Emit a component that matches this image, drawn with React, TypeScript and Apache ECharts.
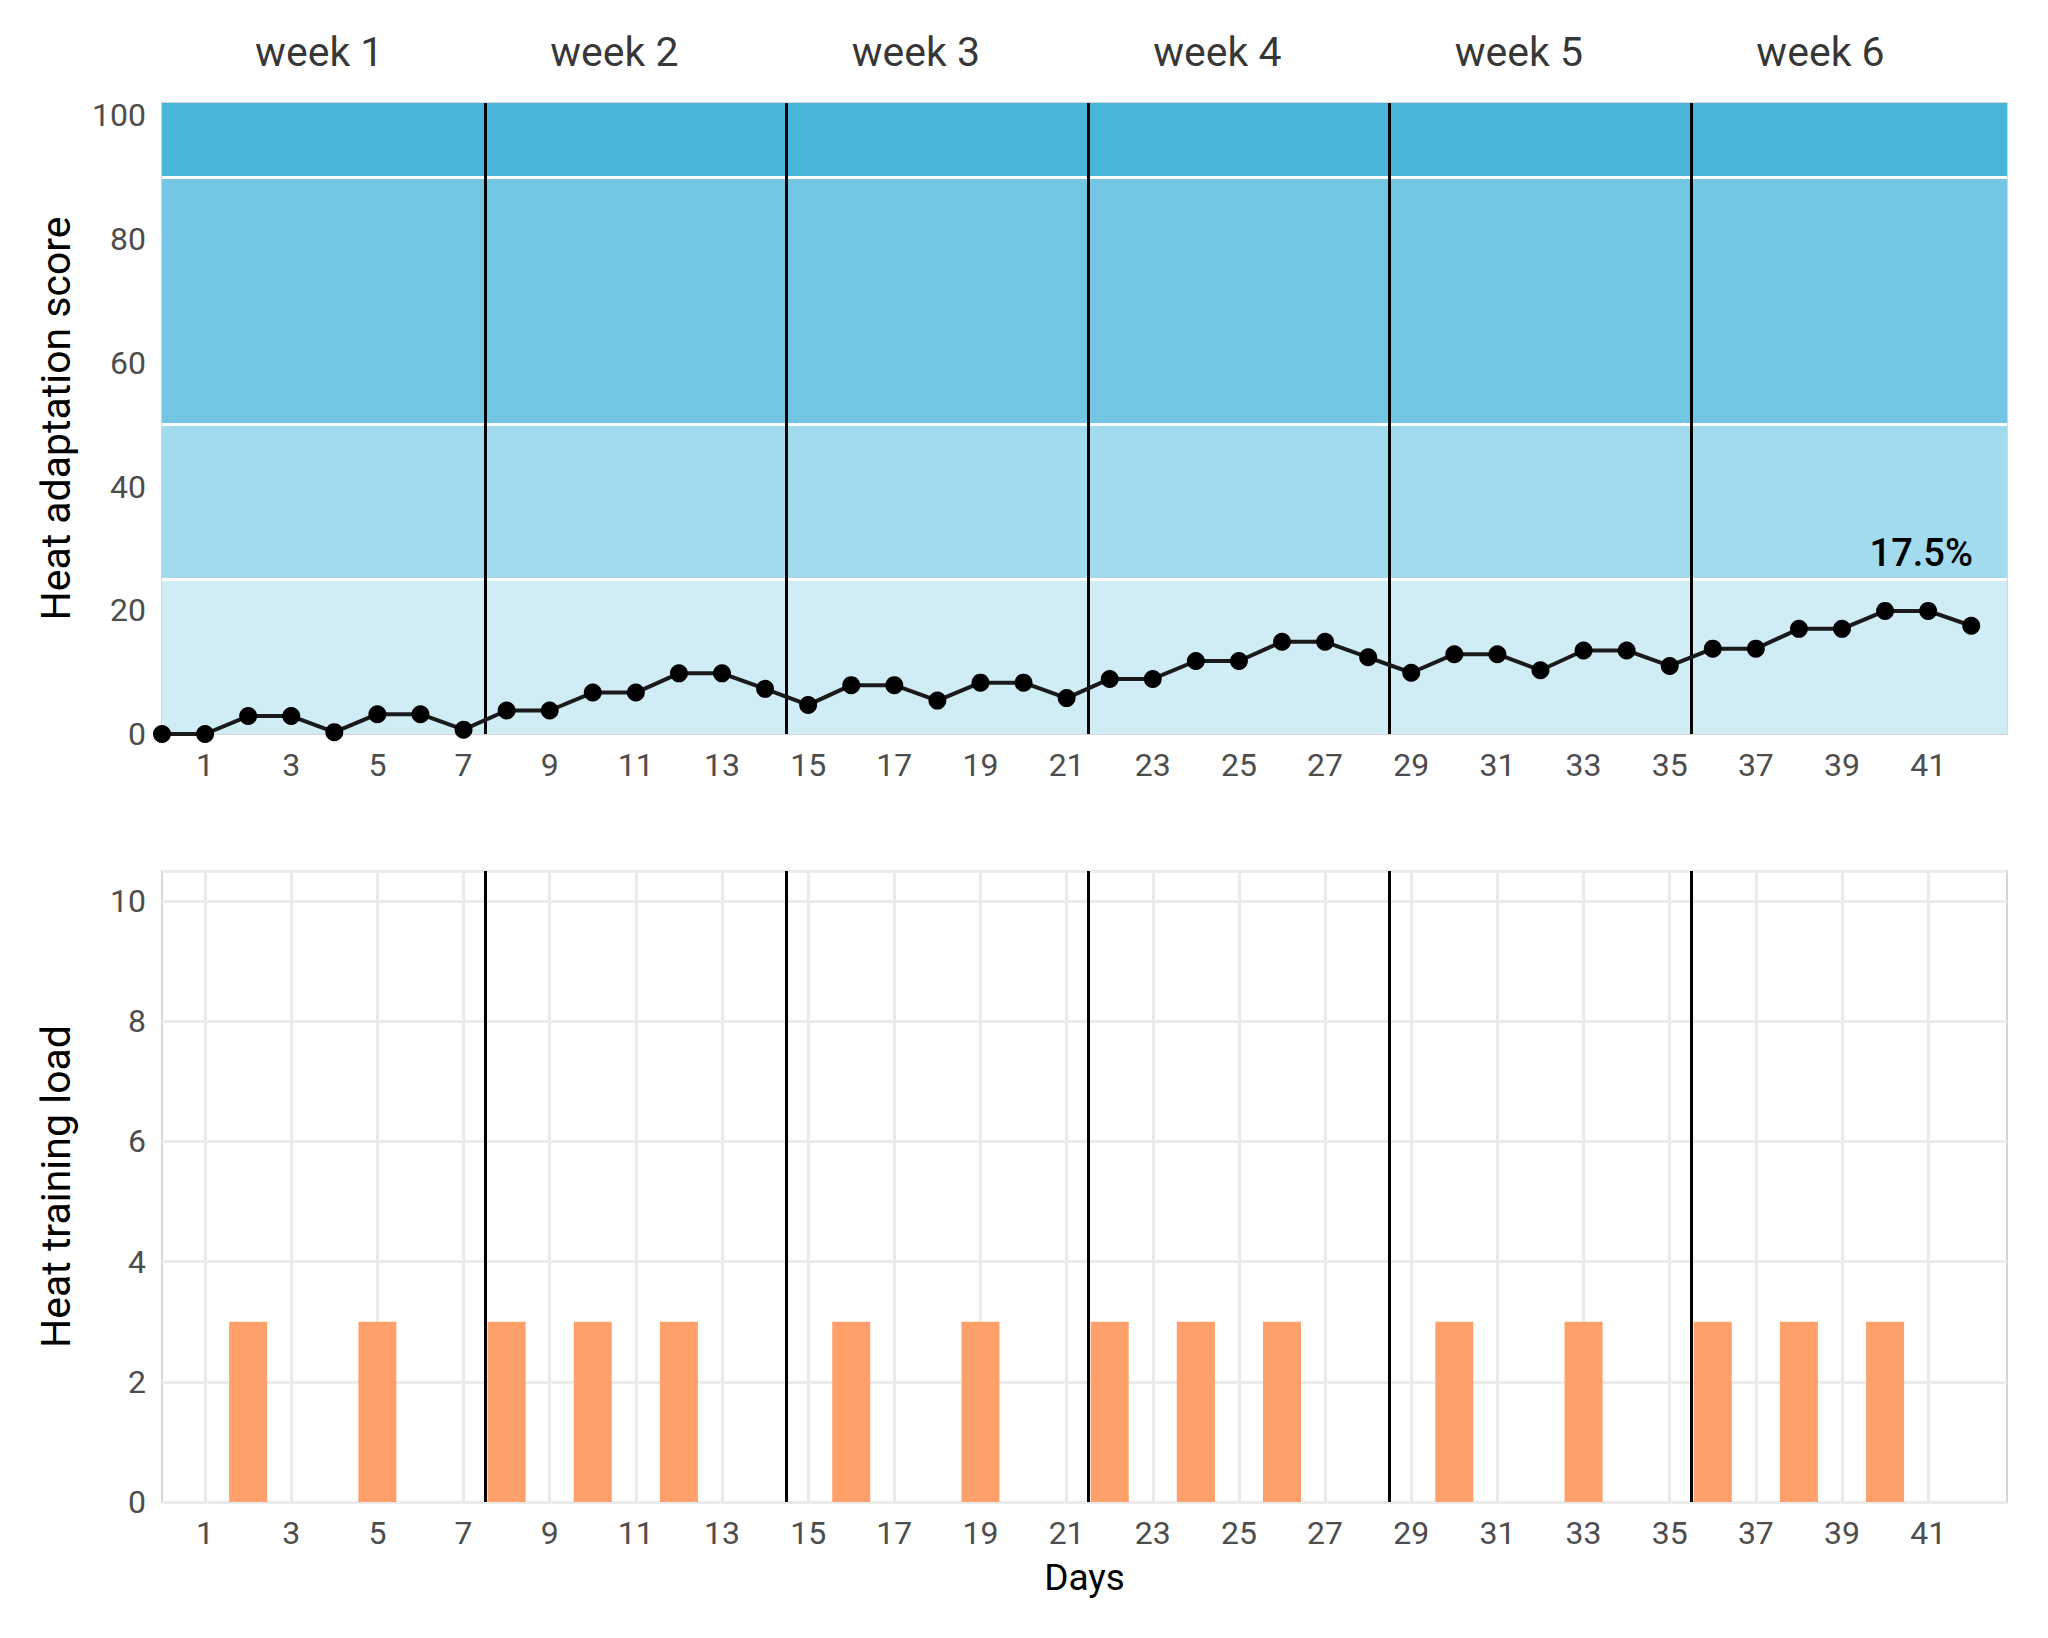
import React, { useEffect, useRef } from "react";
import * as echarts from "echarts";

const days = [0, 1, 2, 3, 4, 5, 6, 7, 8, 9, 10, 11, 12, 13, 14, 15, 16, 17, 18, 19, 20, 21, 22, 23, 24, 25, 26, 27, 28, 29, 30, 31, 32, 33, 34, 35, 36, 37, 38, 39, 40, 41, 42];
const adaptationScore = [0, 0, 2.9, 2.9, 0.3, 3.2, 3.2, 0.7, 3.8, 3.8, 6.7, 6.7, 9.8, 9.8, 7.3, 4.7, 7.9, 7.9, 5.4, 8.3, 8.3, 5.8, 8.9, 8.9, 11.8, 11.8, 14.9, 14.9, 12.4, 9.9, 12.9, 12.9, 10.3, 13.5, 13.5, 11.0, 13.8, 13.8, 17.0, 17.0, 19.9, 19.9, 17.5];
const trainingDays = [2, 5, 8, 10, 12, 16, 19, 22, 24, 26, 30, 33, 36, 38, 40];
const trainingLoad = [3, 3, 3, 3, 3, 3, 3, 3, 3, 3, 3, 3, 3, 3, 3];
const weekBoundaries = [7.5, 14.5, 21.5, 28.5, 35.5];
const weekLabels = ["week 1", "week 2", "week 3", "week 4", "week 5", "week 6"];
const weekCenters = [3.65, 10.5, 17.5, 24.5, 31.5, 38.5];
const xTickDays = [1, 3, 5, 7, 9, 11, 13, 15, 17, 19, 21, 23, 25, 27, 29, 31, 33, 35, 37, 39, 41];
const zoneBounds = [0, 25, 50, 90, 102];
const zoneColors = ["#D0ECF5", "#A3DBEE", "#73C7E3", "#47B6DA"];
const zoneSeparators = [25, 50, 90];
const X_MIN = 0;
const X_MAX = 42.83;

const FONT = "Roboto";
const TICK_COLOR = "#4D4D4D";
const GRID_LEFT = 162;
const GRID_RIGHT = 41;

export default function App() {
  const ref = useRef<HTMLDivElement>(null);

  useEffect(() => {
    if (!ref.current) return;
    const chart = echarts.init(ref.current, undefined, { renderer: "svg" });

    const lastIdx = adaptationScore.length - 1;
    const scoreData = days.map((d, i) => {
      if (i === lastIdx) {
        return {
          value: [d, adaptationScore[i]],
          label: {
            show: true,
            formatter: `${adaptationScore[i]}%`,
            position: "top",
            offset: [-50, -40],
            fontSize: 38,
            fontWeight: 500,
            color: "#000",
            fontFamily: FONT,
          },
        };
      }
      return { value: [d, adaptationScore[i]] };
    });

    const xAxisBase = {
      type: "value",
      min: X_MIN,
      max: X_MAX,
      axisLine: { show: false },
      axisTick: { show: false },
      splitLine: { show: false },
      axisLabel: {
        customValues: xTickDays,
        margin: 15,
        fontSize: 32,
        color: TICK_COLOR,
        fontFamily: FONT,
      },
    };

    const weekLineMark = {
      silent: true,
      z: 5,
      symbol: ["none", "none"],
      label: { show: false },
      lineStyle: { color: "#000", width: 3, type: "solid" },
      emphasis: { disabled: true },
      data: weekBoundaries.map((x) => ({ xAxis: x })),
    };

    const option = {
      animation: false,
      textStyle: { fontFamily: FONT },
      grid: [
        { left: GRID_LEFT, right: GRID_RIGHT, top: 103, height: 631, show: true, borderColor: "#D6D6D6", borderWidth: 2, backgroundColor: "transparent" },
        { left: GRID_LEFT, right: GRID_RIGHT, top: 871, height: 631, show: true, borderColor: "#D6D6D6", borderWidth: 2, backgroundColor: "transparent" },
        { left: GRID_LEFT, right: GRID_RIGHT, top: 0, height: 104 },
      ],
      xAxis: [
        { ...xAxisBase, gridIndex: 0 },
        {
          ...xAxisBase,
          gridIndex: 1,
          name: "Days",
          nameLocation: "middle",
          nameGap: 57,
          nameTextStyle: { fontSize: 37, color: "#000", fontFamily: FONT },
        },
        { type: "value", gridIndex: 2, min: X_MIN, max: X_MAX, show: false },
      ],
      yAxis: [
        {
          type: "value",
          gridIndex: 0,
          min: 0,
          max: 102,
          interval: 20,
          axisLine: { show: false },
          axisTick: { show: false },
          splitLine: { show: false },
          axisLabel: {
            margin: 16,
            fontSize: 32,
            color: TICK_COLOR,
            fontFamily: FONT,
            formatter: (v: number) => (v % 20 === 0 ? String(v) : ""),
          },
          name: "Heat adaptation score",
          nameLocation: "middle",
          nameGap: 86,
          nameTextStyle: { fontSize: 41, color: "#000", fontFamily: FONT },
        },
        {
          type: "value",
          gridIndex: 1,
          min: 0,
          max: 10.5,
          interval: 2,
          axisLine: { show: false },
          axisTick: { show: false },
          splitLine: { show: true, lineStyle: { color: "#EBEBEB", width: 3 } },
          axisLabel: {
            margin: 16,
            fontSize: 32,
            color: TICK_COLOR,
            fontFamily: FONT,
            formatter: (v: number) => (v % 2 === 0 ? String(v) : ""),
          },
          name: "Heat training load",
          nameLocation: "middle",
          nameGap: 86,
          nameTextStyle: { fontSize: 41, color: "#000", fontFamily: FONT },
        },
        { type: "value", gridIndex: 2, min: 0, max: 1, show: false },
      ],
      series: [
        {
          type: "line",
          xAxisIndex: 0,
          yAxisIndex: 0,
          data: [],
          z: 1,
          silent: true,
          markArea: {
            silent: true,
            z: 1,
            emphasis: { disabled: true },
            data: zoneColors.map((c, i) => [
              { yAxis: zoneBounds[i], itemStyle: { color: c, borderWidth: 0 } },
              { yAxis: zoneBounds[i + 1] },
            ]),
          },
        },
        {
          type: "line",
          xAxisIndex: 0,
          yAxisIndex: 0,
          data: [],
          z: 2,
          silent: true,
          markLine: {
            silent: true,
            z: 3,
            symbol: ["none", "none"],
            label: { show: false },
            lineStyle: { color: "#FFFFFF", width: 3, type: "solid" },
            emphasis: { disabled: true },
            data: zoneSeparators.map((v) => ({ yAxis: v })),
          },
        },
        {
          type: "line",
          xAxisIndex: 0,
          yAxisIndex: 0,
          data: [],
          z: 4,
          silent: true,
          markLine: weekLineMark,
        },
        {
          type: "line",
          xAxisIndex: 0,
          yAxisIndex: 0,
          data: scoreData,
          z: 6,
          symbol: "circle",
          symbolSize: 18,
          lineStyle: { color: "#1A1A1A", width: 4 },
          itemStyle: { color: "#000" },
        },
        {
          type: "line",
          xAxisIndex: 1,
          yAxisIndex: 1,
          data: [],
          z: 1,
          silent: true,
          markLine: {
            silent: true,
            z: 1,
            symbol: ["none", "none"],
            label: { show: false },
            lineStyle: { color: "#EBEBEB", width: 3, type: "solid" },
            emphasis: { disabled: true },
            data: xTickDays.map((x) => ({ xAxis: x })),
          },
        },
        {
          type: "bar",
          xAxisIndex: 1,
          yAxisIndex: 1,
          data: trainingDays.map((d, i) => [d, trainingLoad[i]]),
          barWidth: 38,
          z: 3,
          itemStyle: { color: "#FFA06A" },
        },
        {
          type: "line",
          xAxisIndex: 1,
          yAxisIndex: 1,
          data: [],
          z: 4,
          silent: true,
          markLine: weekLineMark,
        },
        {
          type: "scatter",
          xAxisIndex: 2,
          yAxisIndex: 2,
          symbolSize: 0,
          silent: true,
          data: weekCenters.map((c) => [c, 0.5]),
          label: {
            show: true,
            position: "inside",
            formatter: (p: any) => weekLabels[p.dataIndex],
            fontSize: 41,
            color: "#000",
            fontFamily: FONT,
          },
        },
      ],
    };

    chart.setOption(option as any);
    return () => chart.dispose();
  }, []);

  return (
    <div
      ref={ref}
      style={{ position: "absolute", left: 0, top: 0, width: 2048, height: 1638, background: "#fff" }}
    />
  );
}
